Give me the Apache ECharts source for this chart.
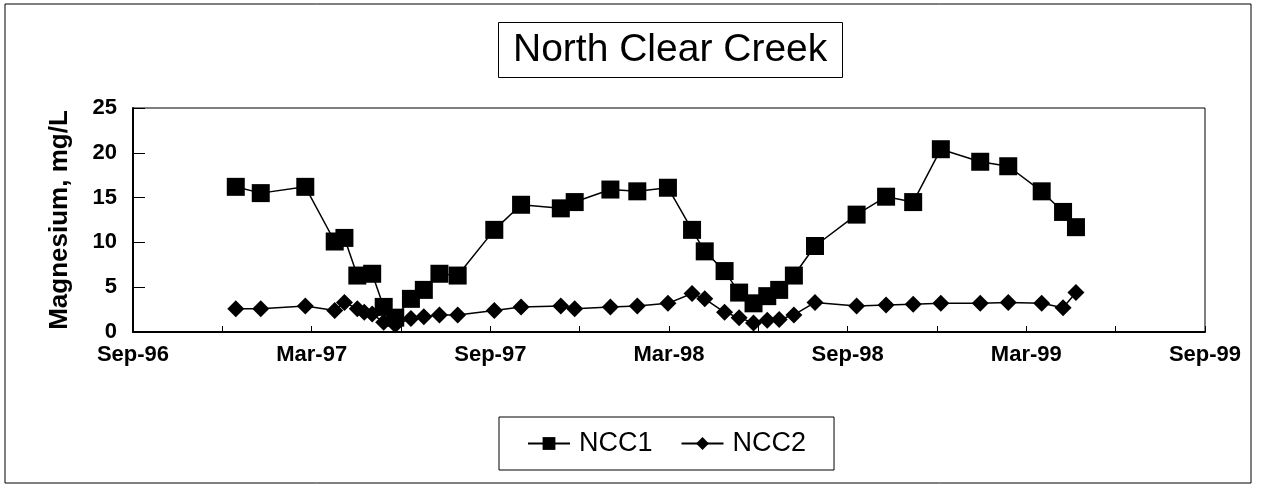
<!DOCTYPE html>
<html>
<head>
<meta charset="utf-8">
<script src="https://cdn.jsdelivr.net/npm/echarts@6/dist/echarts.min.js"></script>
<style>
  html, body { margin: 0; padding: 0; background: #fff; }
  #chart { width: 1265px; height: 485px; }
</style>
</head>
<body>
<div id="chart"></div>
<script>
// sampling dates
const sampleDates = [
  '1996-12-15', '1997-01-10', '1997-02-23', '1997-03-25', '1997-04-04',
  '1997-04-17', '1997-04-24', '1997-05-02', '1997-05-14', '1997-05-26',
  '1997-06-11', '1997-06-24', '1997-07-10', '1997-07-29', '1997-09-05',
  '1997-10-02', '1997-11-12', '1997-11-26', '1998-01-02', '1998-01-30',
  '1998-02-28', '1998-03-25', '1998-04-07', '1998-04-27', '1998-05-12',
  '1998-05-27', '1998-06-10', '1998-06-22', '1998-07-07', '1998-07-29',
  '1998-09-10', '1998-10-10', '1998-11-07', '1998-12-05', '1999-01-15',
  '1999-02-12', '1999-03-17', '1999-04-08', '1999-04-21'
]
const ncc1 = [
  16.2, 15.5, 16.2, 10.1, 10.5,
  6.3, null, 6.5, 2.8, 1.6,
  3.7, 4.7, 6.5, 6.3, 11.4,
  14.2, 13.8, 14.5, 15.9, 15.7,
  16.1, 11.4, 9.0, 6.8, 4.4,
  3.2, 4.0, 4.7, 6.3, 9.6,
  13.1, 15.1, 14.5, 20.4, 19.0,
  18.5, 15.7, 13.4, 11.7
]
const ncc2 = [
  2.6, 2.6, 2.9, 2.4, 3.3,
  2.6, 2.2, 2.0, 1.1, 0.8,
  1.5, 1.7, 1.9, 1.9, 2.4,
  2.8, 2.9, 2.6, 2.8, 2.9,
  3.2, 4.3, 3.7, 2.2, 1.6,
  1.0, 1.3, 1.4, 1.9, 3.3,
  2.9, 3.0, 3.1, 3.2, 3.2,
  3.3, 3.2, 2.7, 4.4
]
const monthNames = ['Jan', 'Feb', 'Mar', 'Apr', 'May', 'Jun', 'Jul', 'Aug', 'Sep', 'Oct', 'Nov', 'Dec']

// months since 1 Sep 1996
function monthPos(s) {
  let [y, m, d] = s.split('-').map(Number)
  let days = new Date(y, m, 0).getDate()
  return (y - 1996) * 12 + (m - 9) + (d - 1) / days
}
function pairs(vals) {
  return sampleDates.map((d, i) => [monthPos(d), vals[i]])
}

const font = 'Liberation Sans, Arial, sans-serif'
let chart = echarts.init(document.getElementById('chart'))
let option = {
  animation: false,
  textStyle: { fontFamily: font, color: '#000' },
  title: {
    text: 'North Clear Creek',
    left: 498,
    top: 22,
    padding: [8, 15, 8, 15],
    borderColor: '#000',
    borderWidth: 1,
    textStyle: { fontSize: 39, fontWeight: 'normal', color: '#000', fontFamily: font, lineHeight: 40 }
  },
  graphic: [{
    type: 'rect',
    shape: { x: 5, y: 4, width: 1246, height: 479 },
    style: { fill: 'none', stroke: '#000', lineWidth: 1 }
  }],
  legend: {
    left: 499,
    top: 417,
    padding: [13, 28, 13, 28],
    borderColor: '#000',
    borderWidth: 1,
    itemWidth: 42,
    itemHeight: 16,
    itemGap: 28,
    textStyle: { fontSize: 27, color: '#000', fontFamily: font, padding: [0, 0, 0, 4] },
    data: ['NCC1', 'NCC2']
  },
  grid: {
    left: 133,
    right: 60,
    top: 108,
    bottom: 153,
    show: true,
    borderColor: '#000',
    borderWidth: 1
  },
  xAxis: {
    type: 'value',
    min: 0,
    max: 36,
    interval: 3,
    axisLine: { lineStyle: { color: '#000', width: 2 } },
    axisTick: { inside: true, length: 6, lineStyle: { color: '#000' } },
    splitLine: { show: false },
    axisLabel: {
      margin: 12,
      fontSize: 22,
      fontWeight: 'bold',
      color: '#000',
      fontFamily: font,
      formatter: v => {
        if (v % 6 !== 0) return ''
        let idx = (8 + v) % 12
        let yr = 1996 + Math.floor((8 + v) / 12)
        return monthNames[idx] + '-' + String(yr).slice(2)
      }
    }
  },
  yAxis: {
    type: 'value',
    min: 0,
    max: 25,
    interval: 5,
    name: 'Magnesium, mg/L',
    nameLocation: 'middle',
    nameGap: 60,
    nameTextStyle: { fontSize: 26, fontWeight: 'bold', color: '#000', fontFamily: font },
    axisLine: { show: true, lineStyle: { color: '#000', width: 2 } },
    axisTick: { show: true, inside: true, length: 12, lineStyle: { color: '#000' } },
    splitLine: { show: false },
    axisLabel: { margin: 16, fontSize: 22, fontWeight: 'bold', color: '#000', fontFamily: font }
  },
  series: [
    {
      name: 'NCC1',
      type: 'line',
      data: pairs(ncc1),
      connectNulls: true,
      symbol: 'rect',
      symbolSize: 18,
      lineStyle: { color: '#000', width: 1.5 },
      itemStyle: { color: '#000' }
    },
    {
      name: 'NCC2',
      type: 'line',
      data: pairs(ncc2),
      symbol: 'diamond',
      symbolSize: [17, 17],
      lineStyle: { color: '#000', width: 1.5 },
      itemStyle: { color: '#000' }
    }
  ]
}
chart.setOption(option)
</script>
</body>
</html>
